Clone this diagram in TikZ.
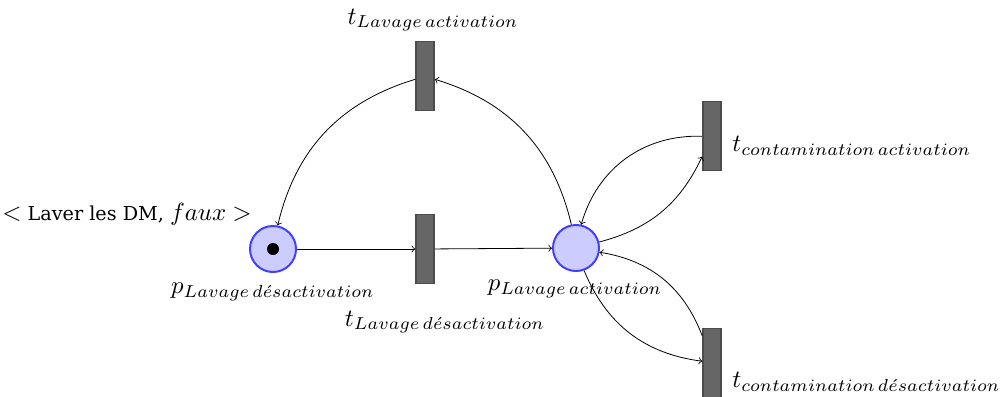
\documentclass[tikz,border=0pt]{standalone}
\usepackage{fontspec}
\setmainfont{DejaVu Serif}
\usetikzlibrary{positioning,arrows}

\newcommand{\netname}[1]{\scalebox{1.24}{$#1$}}

\begin{document}
\begin{tikzpicture}[x=0.5pt, y=-0.5pt, >=to,
    place/.style={circle, draw=blue!75, fill=blue!20, line width=1pt, minimum size=23pt, inner sep=0pt},
    transition/.style={rectangle, draw=black!70, fill=black!60, line width=0.8pt, minimum width=9pt, minimum height=34.5pt, inner sep=0pt},
    tokendot/.style={circle, fill=black, minimum size=6pt, inner sep=0pt},
    netlbl/.style={inner sep=0pt}]
    \useasboundingbox (0,0) rectangle (1000,396);

    % Places
    \node[place] (pdeact) at (273,249) {};
    \node[tokendot] (tok) at (pdeact) {};
    \node[place] (pact) at (576,248) {};

    % Transitions
    \node[transition] (tact) at (425,76) {};
    \node[transition] (tdeact) at (425,249) {};
    \node[transition] (tcact) at (712,136) {};
    \node[transition] (tcdeact) at (712,363) {};

    % Labels
    \node[netlbl, font=\fontsize{9.6}{12}\selectfont] (toklbl) at (127,214) {\netname{<} Laver les DM, \netname{faux} \netname{>}};
    \node[netlbl] (pdeactlbl) at (273,292) {\netname{p_{Lavage\,d\acute{e}sactivation}}};
    \node[netlbl] (pactlbl) at (575,289) {\netname{p_{Lavage\,activation}}};
    \node[netlbl] (tactlbl) at (433,20) {\netname{t_{Lavage\,activation}}};
    \node[netlbl] (tdeactlbl) at (445,322) {\netname{t_{Lavage\,d\acute{e}sactivation}}};
    \node[netlbl, anchor=west] (tcactlbl) at (732,146) {\netname{t_{contamination\,activation}}};
    \node[netlbl, anchor=west] (tcdeactlbl) at (732,382) {\netname{t_{contamination\,d\acute{e}sactivation}}};

    % Arcs
    \draw[->] (pdeact) -- (tdeact);
    \draw[->] (tdeact) -- (pact);
    \draw[->] (pact) to[bend right=30] (tact);
    \draw[->] (tact) to[bend right=30] (pdeact);
    \draw[->] (tcact) to[bend right=38] (pact);
    \draw[->] (pact) to[bend right=25] (tcact);
    \draw[->] (tcdeact) to[bend right=30] (pact);
    \draw[->] (pact) to[bend right=30] (tcdeact);
\end{tikzpicture}
\end{document}
